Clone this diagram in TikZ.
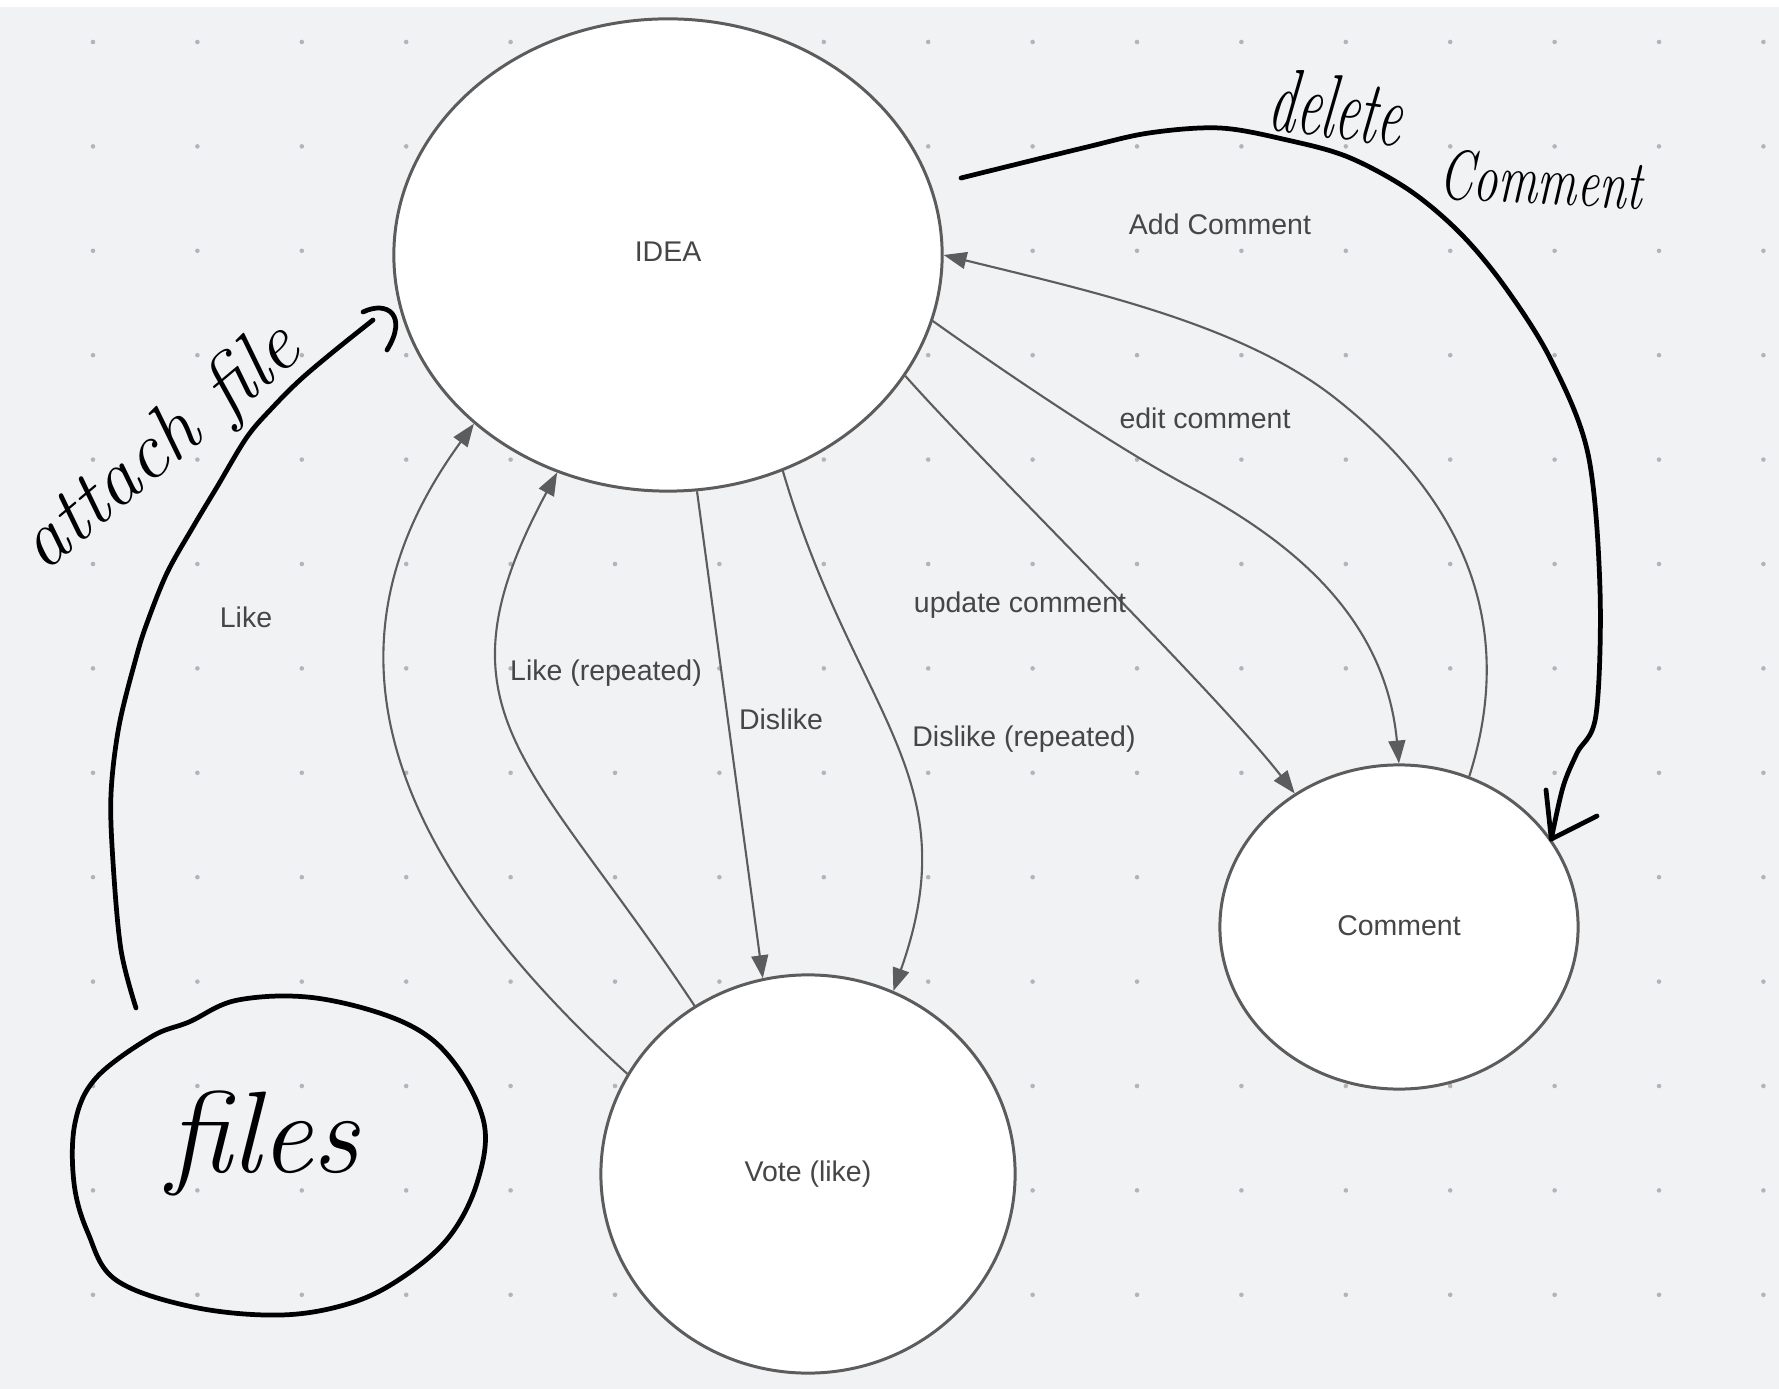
\documentclass[tikz,border=0pt]{standalone}
\usepackage{fontspec}
\newfontfamily\lucidfont{Liberation Sans}
\usetikzlibrary{shapes.geometric,arrows.meta}
\definecolor{board}{RGB}{241,242,244}
\definecolor{griddot}{RGB}{178,180,185}
\definecolor{edgegrey}{RGB}{92,92,92}
\definecolor{labelgrey}{RGB}{70,70,70}

\begin{document}
\begin{tikzpicture}[x=0.01cm, y=-0.01cm,
    state/.style={ellipse, draw=edgegrey, line width=0.85pt, fill=white,
      font=\lucidfont\fontsize{8.1}{9}\selectfont, text=labelgrey, inner sep=0pt},
    trans/.style={draw=edgegrey, line width=0.6pt, -{Triangle[length=6.5pt,width=4.8pt]}},
    lbl/.style={font=\lucidfont\fontsize{8.1}{9}\selectfont, text=labelgrey, inner sep=0pt},
    pen/.style={black, line width=1.35pt, line cap=round, line join=round},
    scrawl/.style={inner sep=0pt, text=black}
  ]
  \useasboundingbox (0,0) rectangle (1779,1389);
  \fill[white] (0,0) rectangle (1779,1389);
  \fill[board] (0,7) rectangle (1779,1389);

  % dot grid of the board
  \foreach \i in {0,...,16}
    \foreach \j in {0,...,12}
      \fill[griddot] (93+104.4*\i, 42+104.4*\j) circle[radius=0.65pt];

  % states
  \node[state, minimum width=5.48cm, minimum height=4.72cm] (idea) at (668,255) {\raisebox{1.7pt}{IDEA}};
  \node[state, minimum width=3.58cm, minimum height=3.24cm] (comment) at (1399,927) {\raisebox{1pt}{Comment}};
  \node[state, minimum width=4.14cm, minimum height=3.98cm] (vote) at (808,1174) {Vote (like)};

  % votes
  \draw[trans] (vote.151) .. controls (309,785) and (359,582) .. (idea.221);
  \draw[trans] (vote.124) .. controls (529,756) and (428,713) .. (idea.243);
  \draw[trans] (idea.277) -- (vote.103);
  \draw[trans] (idea.298) .. controls (855,716) and (970,775) .. (vote.65);

  % comments
  \draw[trans] (idea.333) .. controls (985,466) and (1214,690) .. (comment.128);
  \draw[trans] (idea.346) .. controls (1003,371) and (1115,447) .. (1190,487)
    .. controls (1287,539) and (1385,614) .. (comment.90);
  \draw[trans] (comment.65) .. controls (1518,623) and (1462,498) .. (1335,398)
    .. controls (1241,324) and (1090,291) .. (idea.0);

  % labels
  \node[lbl] (like lbl) at (246,617) {Like};
  \node[lbl] (likerep lbl) at (606,673) {Like (repeated)};
  \node[lbl] (dislike lbl) at (781,719) {Dislike};
  \node[lbl] (dislikerep lbl) at (1024,739) {Dislike (repeated)};
  \node[lbl] (update lbl) at (1020,605) {update comment};
  \node[lbl] (edit lbl) at (1205,418) {edit comment};
  \node[lbl] (add lbl) at (1220,224) {Add Comment};

  % hand-written notes on top
  \coordinate (delete start) at (961,178);
  \draw[pen] plot[smooth, tension=0.55] coordinates {(delete start) (1083,148) (1149,133)
    (1220,128) (1287,140) (1348,157) (1409,190) (1460,233) (1505,287) (1551,360)
    (1588,454) (1600,590) (1596,715) (1577,753) (1563,787) (comment.30)};
  \draw[pen] (1546,790) -- (comment.30) -- (1597,816);
  \node[scrawl, font=\itshape\fontsize{26}{26}\selectfont, rotate=-7.6, xscale=0.6]
    (delete txt) at (1337,107) {delete};
  \node[scrawl, font=\itshape\fontsize{20}{20}\selectfont, rotate=-3, xscale=0.7]
    (comment txt) at (1541,180) {Comment};

  \coordinate (attach start) at (136,1008);
  \draw[pen] plot[smooth, tension=0.55] coordinates {(attach start) (121,950) (113,862)
    (111,794) (119,726) (136,658) (147,623) (167,573) (193,527) (217,487) (247,437)
    (273,407) (300,380) (333,352) (373,320)};
  \draw[pen] (363,312) .. controls (388,300) and (408,316) .. (387,350);
  \node[scrawl, font=\itshape\fontsize{23}{24}\selectfont, anchor=base west, rotate=40]
    (attach txt) at (44,574) {attach file};

  \draw[pen] plot[smooth cycle, tension=0.6] coordinates {(75,1123) (96,1078) (151,1037)
    (189,1022) (238,1000) (316,998) (403,1022) (452,1060) (484,1123) (477,1183)
    (449,1237) (403,1277) (351,1303) (281,1315) (193,1307) (116,1280) (88,1233) (74,1183)};
  \node[scrawl, font=\itshape\fontsize{33}{33}\selectfont, anchor=base] (files) at (263,1172) {files};
\end{tikzpicture}
\end{document}
